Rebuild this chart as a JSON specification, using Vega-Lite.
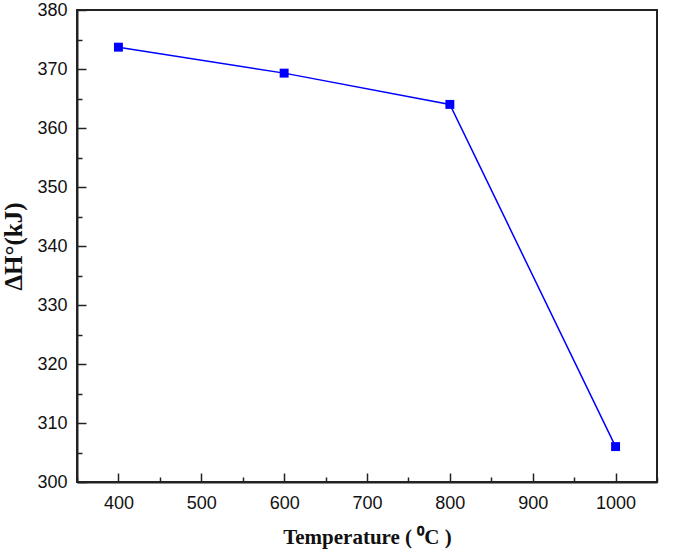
{
  "$schema": "https://vega.github.io/schema/vega-lite/v6.json",
  "width": 580,
  "height": 472,
  "autosize": {"type": "none"},
  "padding": {"left": 77, "top": 10, "right": 28, "bottom": 73},
  "background": "white",
  "config": {
    "view": {"stroke": "#222222", "strokeWidth": 2},
    "axis": {
      "domainColor": "#222222",
      "domainWidth": 2,
      "tickColor": "#222222",
      "tickWidth": 1.5,
      "grid": false,
      "labelFont": "Liberation Sans",
      "labelFontSize": 18,
      "labelColor": "#111111",
      "titleFont": "Liberation Serif",
      "titleFontWeight": "bold",
      "titleColor": "#111111"
    }
  },
  "data": {
    "values": [
      {"T": 400, "H": 373.7},
      {"T": 600, "H": 369.3},
      {"T": 800, "H": 364.0},
      {"T": 1000, "H": 306.0}
    ]
  },
  "encoding": {
    "x": {
      "field": "T",
      "type": "quantitative",
      "scale": {"domain": [350, 1050], "nice": false, "zero": false},
      "axis": {
        "title": "Temperature ( ⁰C )",
        "titleFontSize": 21,
        "values": [350, 400, 450, 500, 550, 600, 650, 700, 750, 800, 850, 900, 950, 1000, 1050],
        "labelExpr": "datum.value % 100 === 0 ? datum.label : ''",
        "format": "d",
        "tickSize": {"condition": {"test": "datum.value % 100 !== 0", "value": -5}, "value": -9},
        "labelPadding": 21,
        "titlePadding": 14
      }
    },
    "y": {
      "field": "H",
      "type": "quantitative",
      "scale": {"domain": [300, 380], "nice": false, "zero": false},
      "axis": {
        "title": "ΔH°(kJ)",
        "titleFontSize": 25,
        "values": [300, 305, 310, 315, 320, 325, 330, 335, 340, 345, 350, 355, 360, 365, 370, 375, 380],
        "labelExpr": "datum.value % 10 === 0 ? datum.label : ''",
        "format": "d",
        "tickSize": {"condition": {"test": "datum.value % 10 !== 0", "value": -5}, "value": -9},
        "labelPadding": 19,
        "titlePadding": 10
      }
    }
  },
  "layer": [
    {"mark": {"type": "line", "color": "#0000FF", "strokeWidth": 1.5}},
    {"mark": {"type": "point", "shape": "square", "filled": true, "color": "#0000FF", "size": 80, "opacity": 1}}
  ]
}
